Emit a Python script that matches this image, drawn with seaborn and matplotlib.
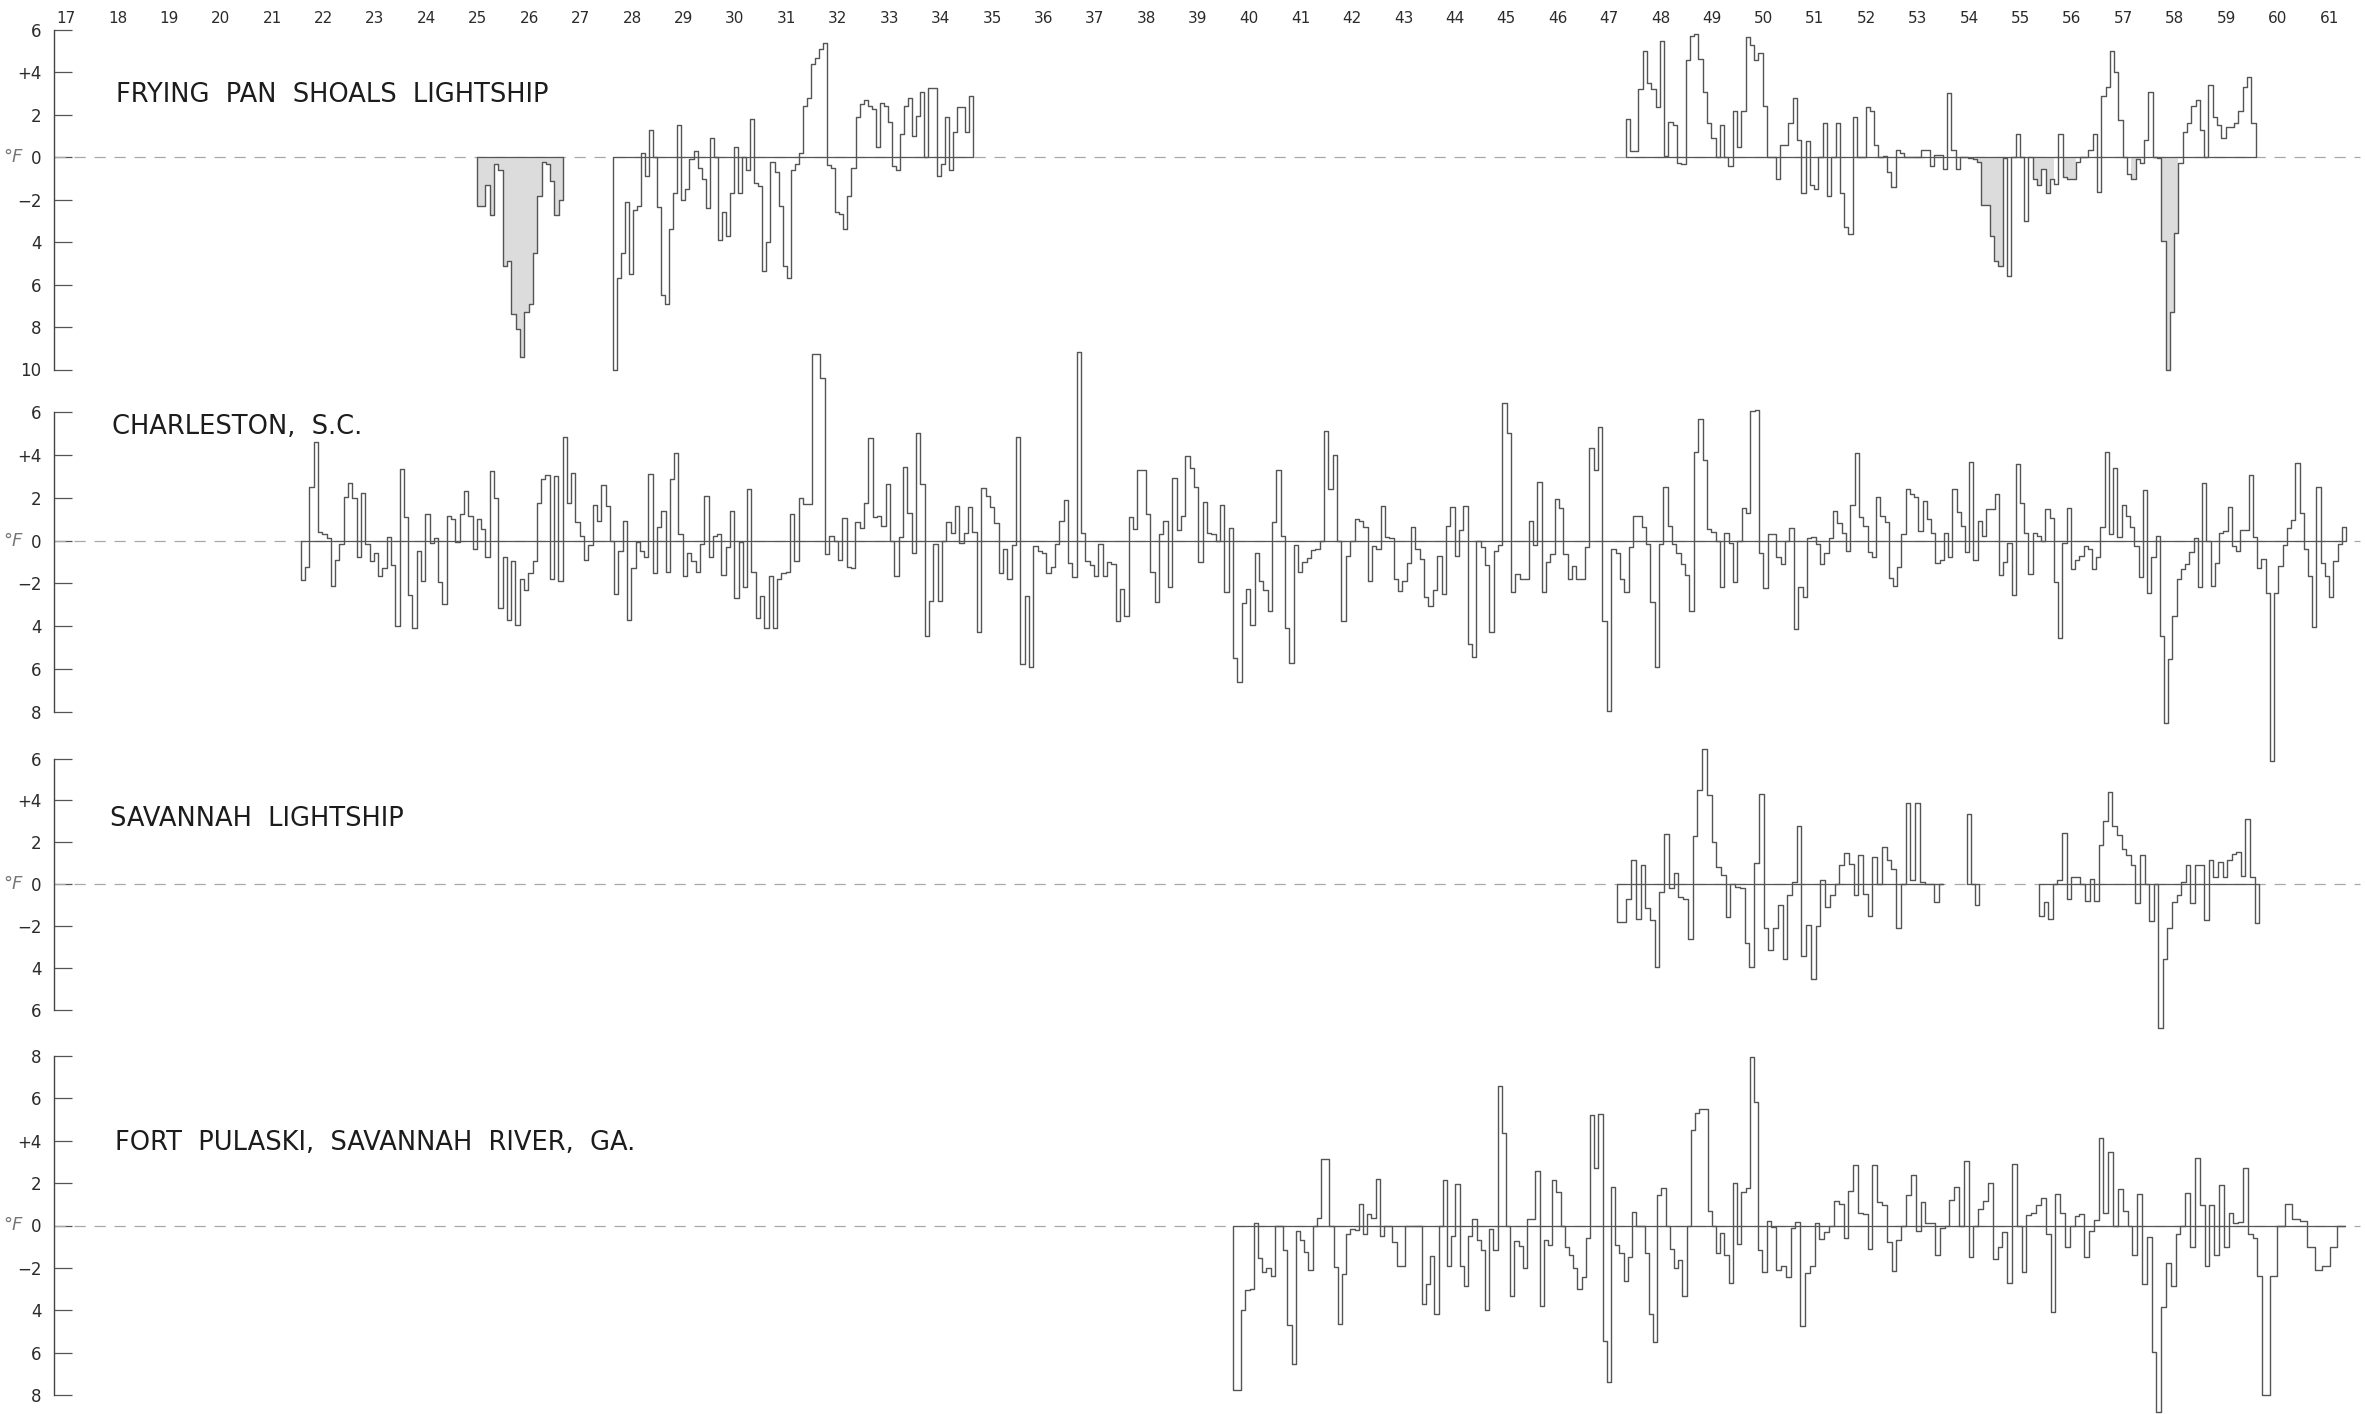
import numpy as np
import pandas as pd
import matplotlib
matplotlib.use("Agg")
import matplotlib.pyplot as plt
import seaborn as sns

sns.set_theme(style="white")
plt.rcParams['font.family'] = ['DejaVu Sans']

# ---------------------------------------------------------------------------
# Year labels along the top (19xx)
YEARS = list(range(17, 62))

# Monthly departures from normal surface temperature, degrees F.
# Frying Pan Shoals Lightship
fps_1925 = [-2.3, -2.3, -1.3, -2.7, -0.3, -0.6, -5.1, -4.9, -7.4, -8.1, -9.4, -7.3,
            -6.9, -4.5, -1.8, -0.2, -0.3, -1.1, -2.7, -2.0]
fps_1927 = [-10.0, -5.7, -4.5, -2.1, -5.5, -2.5, -2.3, 0.2, -0.9, 1.3, 0.0, -2.35,
            -6.5, -6.9, -3.4, -1.7, 1.5, -2.0, -1.5, -0.1, 0.3, -0.5, -1.0, -2.4,
            0.9, 0.0, -3.9, -2.6, -3.7, -1.7, 0.5, -1.7, 0.0, -0.6, 1.8, -1.2,
            -1.35, -5.35, -4.0, -0.2, -0.7, -2.3, -5.1, -5.7, -0.6, -0.3, 0.2, 2.4,
            2.8, 4.4, 4.7, 5.1, 5.4, -0.35, -0.5, -2.6, -2.65, -3.4, -1.8, -0.5,
            1.9, 2.5, 2.7, 2.4, 2.3, 0.5, 2.55, 2.4, 1.65, -0.4, -0.6, 1.1,
            2.4, 2.8, 1.0, 1.95, 3.1, 0.0, 3.25, 3.25, -0.9, -0.3, 1.9, -0.6,
            1.2, 2.35, 2.35, 1.2, 2.9]
fps_1947 = [1.8, 0.3, 0.3, 3.2, 5.0, 3.5, 3.2, 2.35, 5.5, 0.05, 1.65, 1.5,
            -0.25, -0.3, 4.6, 5.7, 5.8, 4.65, 3.1, 1.6, 0.9, 0.0, 1.5, 0.0,
            -0.4, 2.2, 0.5, 2.2, 5.65, 5.3, 4.6, 4.9, 2.4, 0.0, 0.0, -1.0,
            0.6, 0.6, 1.6, 2.8, 0.8, -1.7, 0.75, -1.3, -1.5, 0.0, 1.6, -1.8,
            0.0, 1.6, -1.7, -3.3, -3.6, 1.9, 0.0, 0.0, 2.35, 2.2, 0.6, 0.0,
            0.05, -0.7, -1.4, 0.35, 0.2, 0.0, 0.0, 0.0, 0.0, 0.35, 0.35, -0.4,
            0.1, 0.1, -0.55, 3.05, 0.35, -0.55, 0.0, 0.0, -0.05, -0.1, -0.2, -2.25,
            -2.25, -3.7, -4.9, -5.1, -0.05, -5.6, 0.0, 1.1, 0.0, -3.0, 0.0, -1.0,
            -1.3, -0.55, -1.7, -1.0, -1.25, 1.1, -0.95, -1.0, -1.0, -0.2, 0.0, 0.0,
            0.35, 1.1, -1.65, 2.9, 3.3, 5.0, 4.0, 1.75, 0.0, -0.8, -1.0, -0.1,
            -0.25, 0.8, 3.1, 0.0, -0.05, -3.95, -10.0, -7.3, -3.55, -0.25, 1.2, 1.6,
            2.4, 2.7, 1.3, 0.0, 3.4, 1.9, 1.5, 0.9, 1.45, 1.45, 1.6, 2.2,
            3.3, 3.8, 1.6]

# Charleston, S.C.
chs_1921 = [-1.85, -1.25, 2.5, 4.6, 0.4, 0.3, 0.1, -2.1, -0.9, -0.15, 2.05, 2.7,
            2.0, -0.75, 2.2, -0.15, -0.95, -0.6, -1.65, -1.3, 0.15, -1.15, -4.0, 3.35,
            1.1, -2.55, -4.1, -0.5, -1.9, 1.25, -0.1, 0.1, -1.95, -2.95, 1.15, 1.0,
            -0.05, 1.25, 2.3, 1.15, -0.4, 1.0, 0.55, -0.75, 3.25, 2.0, -3.15, -0.75,
            -3.7, -0.95, -3.95, -1.8, -2.3, -1.5, -0.95, 1.75, 2.85, 3.05, -1.8, 3.0,
            -1.9, 4.85, 1.75, 3.15, 0.85, 0.2, -0.9, -0.2, 1.65, 0.9, 2.6, 1.6,
            0.0, -2.5, -0.5, 0.9, -3.7, -1.3, -0.05, -0.5, -0.75, 3.1, -1.5, 0.65,
            1.4, -1.45, 2.85, 4.1, 0.3, -1.65, -0.6, -0.95, -1.45, -0.15, 2.1, -0.75,
            0.2, 0.3, -1.6, -0.3, 1.4, -2.7, -0.05, -2.15, 2.4, -1.45, -3.6, -2.6,
            -4.1, -1.65, -4.1, -1.8, -1.5, -1.45, 1.25, -0.95, 2.0, 1.7, 1.7]
chs_1931 = [8.7, 8.7, 7.6]
chs_1932 = [-0.65, 0.2, 0.0, -0.9, 1.05, -1.25, -1.3, 0.85, 0.6, 1.75, 4.8, 1.1,
            1.15, 0.7, 2.65, 0.0, -1.65, 0.15, 3.45, 1.3, -0.6, 5.0, 2.65, -4.45,
            -2.8, -0.15, -2.8, 0.0, 0.85, 0.35, 1.6, -0.1, 0.35, 1.55, 0.4, -4.25,
            2.45, 2.1, 1.55, 0.8, -1.5, -0.4, -1.8, -0.2, 4.85, -5.75, -2.6, -5.9,
            -0.25, -0.5, -0.6, -1.5, -1.25, -0.15, 0.9, 1.9, -1.05, -1.7, 8.8, 0.35,
            -0.95, -1.15, -1.65, -0.15, -1.65, -1.0, -1.1, -3.75, -2.25, -3.5, 1.1, 0.55,
            3.3, 3.3, 1.25, -1.45, -2.85, 0.3, 0.9, -2.15, 2.9, 0.5, 1.15, 3.95,
            3.4, 2.5, -1.0, 1.8, 0.35, 0.3, 0.0, 1.65, -2.4, 0.6, -5.5, -6.6,
            -2.9, -2.25, -3.95, -0.6, -1.9, -2.3, -3.3, 0.85, 3.3, 0.2, -4.1, -5.7,
            -0.2, -1.45, -1.0, -0.8, -0.45, -0.4, 0.0, 5.1, 2.4, 4.0]
chs_1941 = [0.0, -3.75, -0.7, 0.0, 1.0, 0.9, 0.65, -1.9, -0.25, -0.4, 1.6, 0.15,
            0.1, -1.8, -2.35, -1.9, -1.05, 0.65, -0.4, -0.85, -2.65, -3.05, -2.3, -0.7,
            -2.5, 0.7, 1.55, -0.7, 0.5, 1.6, -4.85, -5.45, 0.0, -0.3, -1.15, -4.25,
            -0.5, -0.2, 6.4, 5.0, -2.4, -1.55, -1.8, -1.8, 0.9, -0.2, 2.75, -2.4,
            -1.0, -0.65, 1.95, 1.5, -0.65, -1.8, -1.2, -1.8, -1.8, -0.3, 4.3, 3.3,
            5.3, -3.75, -7.95, -0.4, -0.6, -1.8, -2.4, -0.3, 1.15, 1.15, 0.65, -0.15,
            -2.85, -5.9, -0.15, 2.5, 0.7, -0.15, -0.6, -1.1, -1.6, -3.3, 4.15, 5.65,
            3.75, 0.55, 0.4, 0.0, -2.15, 0.35, -0.1, -1.95, 0.0, 1.5, 1.3, 6.05,
            6.1, -0.6, -2.2, 0.3, 0.3, -0.75, -1.1, 0.0, 0.6, -4.15, -2.15, -2.65,
            0.1, 0.15, -0.15, -1.1, -0.6, 0.1, 1.4, 0.8, 0.35, -0.5, 1.65, 4.1]
chs_1951 = [1.1, 0.7, -0.55, -0.75, 2.05, 1.15, 0.85, -1.75, -2.1, -1.25, 0.3, 2.4,
            2.15, 2.05, 0.45, 1.85, 1.0, 0.35, -1.05, -0.9, 0.35, -0.75, 2.4, 1.35,
            0.7, -0.55, 3.65, -0.9, 0.9, 0.2, 1.45, 1.45, 2.15, -1.6, -1.0, -0.1,
            -2.55, 3.55, 1.75, 0.35, -1.55, 0.35, 0.2, 0.0, 1.45, 1.05, -1.95, -4.55,
            -0.1, 1.5, -1.35, -0.9, -0.7, -0.25, -0.4, -1.35, -0.75, 0.65, 4.15, 0.3,
            3.4, 0.15, 1.65, 1.15, 0.65, -0.25, -1.7, 2.35, -2.45, -0.75, 0.2, -4.45,
            -8.5, -5.55, -3.5, -1.8, -1.35, -1.1, -0.55, 0.1, -2.15, 2.7, 0.0, -2.1,
            -1.05, 0.35, 0.45, 1.55, -0.25, -0.5, 0.5, 0.5, 3.05, 0.15, -1.3, -0.85,
            -2.45, -10.3, -2.45, -1.2, -0.2, 0.6, 0.95, 3.6, 1.3, -0.4, -1.65, -4.05,
            2.5, -1.05, -1.65, -2.65, -0.95, -0.15, 0.65]

# Savannah Lightship
sav_1947 = [-1.8, -1.8, -0.7, 1.15, -1.65, 0.9, -1.15, -1.7, -3.95, -0.35, 2.4, -0.2,
            0.55, -0.6, -0.7, -2.6, 2.3, 4.5, 6.45, 4.25, 2.0, 0.8, 0.45, -1.55,
            0.0, -0.15, -0.2, -2.8, -3.95, 1.0, 4.3, -2.1, -3.15, -2.1, -1.0, -3.55,
            -0.5, 0.1, 2.8, -3.4, -1.95, -4.5, -2.0, 0.2, -1.1, -0.5, 0.0, 0.9,
            1.5, 0.95, -0.5, 1.4, -0.45, -1.5, 1.3, 0.0, 1.8, 1.15, 0.75, -2.1,
            0.0, 3.9, 0.2, 3.9, 0.1, 0.0, 0.0, -0.85, 0.0]
sav_1953 = [3.35, 0.0, -1.0]
sav_1955 = [-1.5, -0.85, -1.65, 0.0, 0.2, 2.45, -0.7, 0.35, 0.35, 0.0, -0.8, 0.25,
            -0.8, 1.85, 3.0, 4.4, 2.8, 2.35, 1.7, 1.4, 0.9, -0.9, 1.4, 0.0,
            -1.75, 0.0, -6.85, -3.55, -2.1, -0.85, -0.5, 0.1, 0.9, -0.9, 0.9, 0.9,
            -1.7, 1.15, 0.35, 1.05, 0.35, 1.15, 1.45, 1.55, 0.4, 3.1, 0.35, -1.85]

# Fort Pulaski, Savannah River, Ga.
ftp_1939 = [-7.75, -7.75, -4.0, -3.05, -3.0, 0.1, -1.55, -2.2, -2.0, -2.4, 0.0, 0.0,
            -1.15, -4.7, -6.55, -0.25, -0.7, -1.25, -2.1, 0.0, 0.35, 3.15, 3.15, 0.0,
            -1.95, -4.65, -2.3, -0.4, -0.15, -0.2, 1.0, -0.4, 0.55, 0.35, 2.2, -0.5,
            0.0, 0.0, -0.8, -1.9, -1.9, 0.0, 0.0, 0.0, 0.0, -3.7, -2.75, -1.45,
            -4.2, 0.0, 2.15, -1.9, -0.5, 1.95, -1.9, -2.85, -0.5, 0.3, -0.7, -1.15,
            -4.0, -0.15, -1.15, 6.6, 4.35, 0.0, -3.35, -0.75, -0.95, -2.0, 0.3, 0.3,
            2.55, -3.8, -0.7, -0.9, 2.15, 1.6, 0.0, -1.0, -1.4, -2.0, -3.0, -2.45,
            -0.6, 5.2, 2.7, 5.25, -5.45, -7.4, 1.8, -0.9, -1.3, -2.6, -1.5, 0.65,
            0.0, 0.0, -1.3, -4.2, -5.5, 1.45, 1.75, 0.0, -1.1, -2.0, -1.65, -3.35,
            0.0, 4.5, 5.3, 5.5, 5.5, 0.7, 0.0, -1.3, -0.35, -1.4, -2.7, 2.0,
            -0.85, 1.6, 1.75, 7.95, 5.85, -1.15, -2.2]
ftp_1950 = [0.2, -0.05, -2.1, -1.9, -2.45, -0.1, 0.15, -4.75, -2.25, -1.9, 0.1, -0.65,
            -0.3, 0.0, 1.15, 1.0, -0.6, 1.65, 2.85, 0.6, 0.55, -1.1, 2.85, 1.1,
            0.95, -0.8, -2.15, -0.7, 0.0, 1.45, 2.4, -0.25, 1.1, 0.1, 0.1, -1.4,
            -0.1, 0.0, 1.2, 1.8, 0.0, 3.05, -1.5, 0.0, 0.8, 1.15, 2.0, -1.6,
            -1.0, -0.3, -2.7, 2.9, 0.0, -2.2, 0.5, 0.6, 0.95, 1.3, -0.4, -4.1,
            1.5, 0.6, -1.0, 0.0, 0.45, 0.55, -1.5, -0.25, 0.25, 4.15, 0.6, 3.45,
            0.0, 1.7, 0.7, 0.0, -1.4, 1.5, -2.75, -0.55, -5.95, -8.8, -3.85, -1.75,
            -2.85, -0.4, 0.0, 1.55, -1.0, 3.2, 0.95, -1.9, 0.95, -1.4, 1.9, -1.0,
            0.6, 0.1, 0.15, 2.7, -0.4, -0.6, -2.4]
ftp_1959 = [-8.0, -2.4, 0.0, 1.0, 0.3, 0.2, -1.0, -2.1, -1.9, -1.0, 0.0]

# Record periods (decimal year, 19xx) for each block of monthly values
fps_runs = [[(24.98, 26.66, fps_1925)],
            [(27.62, 34.63, fps_1927)],
            [(47.32, 59.57, fps_1947)]]
chs_runs = [[(21.56, 31.49, chs_1921), (31.49, 31.75, chs_1931),
             (31.75, 41.71, chs_1932), (41.71, 51.86, chs_1941),
             (51.86, 61.33, chs_1951)]]
sav_runs = [[(47.15, 53.50, sav_1947)],
            [(53.95, 54.20, sav_1953)],
            [(55.36, 59.64, sav_1955)]]
ftp_runs = [[(39.68, 50.06, ftp_1939), (50.06, 59.70, ftp_1950),
             (59.70, 61.30, ftp_1959)]]

# Periods with shaded cold departures on the lightship record
fps_shaded = [(24.9, 26.8), (54.0, 56.2), (57.1, 57.45), (57.55, 58.15)]

LINE = "#555555"


def run_frame(chunks):
    """Outline of monthly steps that starts and ends on the zero line."""
    edges, vals = [], []
    for a, b, v in chunks:
        e = np.linspace(a, b, len(v) + 1)
        edges.extend(e[:-1])
        vals.extend(v)
    edges.append(chunks[-1][1])
    edges = np.asarray(edges)
    vals = np.asarray(vals, float)
    x = np.concatenate([[edges[0]], edges[:-1], [edges[-1], edges[-1]]])
    y = np.concatenate([[0.0], vals, [vals[-1], 0.0]])
    return pd.DataFrame({"x": x, "y": y})


W, H = 2365, 1414
fig = plt.figure(figsize=(W / 100, H / 100), dpi=100)
fig.patch.set_facecolor("white")

LEFT, RIGHT = 54, 2360
panels = [
    # name, runs, (top px, bottom px), ylim, ticks, labels, title pos (x px, y px)
    ("FRYING  PAN  SHOALS  LIGHTSHIP", fps_runs, (30, 369.5), (-10, 6),
     [6, 4, 2, 0, -2, -4, -6, -8, -10],
     ["6", "+4", "2", "0", "\u22122", "4", "6", "8", "10"], (116, 95)),
    ("CHARLESTON,  S.C.", chs_runs, (412, 712), (-8, 6),
     [6, 4, 2, 0, -2, -4, -6, -8],
     ["6", "+4", "2", "0", "\u22122", "4", "6", "8"], (112, 427)),
    ("SAVANNAH  LIGHTSHIP", sav_runs, (758.5, 1010), (-6, 6),
     [6, 4, 2, 0, -2, -4, -6],
     ["6", "+4", "2", "0", "\u22122", "4", "6"], (110, 819)),
    ("FORT  PULASKI,  SAVANNAH  RIVER,  GA.", ftp_runs, (1056, 1395), (-8, 8),
     [8, 6, 4, 2, 0, -2, -4, -6, -8],
     ["8", "6", "+4", "2", "0", "\u22122", "4", "6", "8"], (115, 1143)),
]

axes = []
for i, (name, runs, (top, bot), ylim, ticks, labels, tpos) in enumerate(panels):
    ax = fig.add_axes([LEFT / W, 1 - bot / H, (RIGHT - LEFT) / W, (bot - top) / H])
    ax.set_facecolor("none")
    ax.set_xlim(16.76, 61.6)
    ax.set_ylim(*ylim)

    # dashed reference line at zero across the whole record
    ax.axhline(0, color="#a8a8a8", lw=0.9, ls=(0, (9, 7)), zorder=1)

    for chunks in runs:
        df = run_frame(chunks)
        ax.hlines(0, df.x.iloc[0], df.x.iloc[-1], color=LINE, lw=0.9, zorder=2)
        if i == 0:
            for a, b in fps_shaded:
                mask = (df.x >= a) & (df.x <= b) & (df.y < 0)
                if mask.any():
                    ax.fill_between(df.x, df.y, 0, where=mask, step="post",
                                    color="#dcdcdc", lw=0, zorder=1.5)
        sns.lineplot(data=df, x="x", y="y", ax=ax, estimator=None, sort=False,
                     drawstyle="steps-post", color=LINE, lw=1.0, zorder=3)

    # extreme months run past the panel edge, as on the printed chart
    for ln in ax.lines:
        ln.set_clip_on(False)

    ax.set_xlabel("")
    ax.set_ylabel("")
    ax.set_yticks(ticks)
    ax.set_yticklabels(labels)
    ax.tick_params(axis="y", direction="in", length=13, width=0.9, color="#555555",
                   labelsize=12, labelcolor="#2b2b2b", pad=9, left=True)
    for s in ("top", "right", "bottom"):
        ax.spines[s].set_visible(False)
    ax.spines["left"].set_color("#444444")
    ax.spines["left"].set_linewidth(1.0)
    ax.grid(False)

    ax.annotate("°F", xy=(0, 0), xycoords=("axes fraction", "data"),
                xytext=(-41, 0), textcoords="offset pixels", ha="center",
                va="center", fontsize=13, color="#777777", fontstyle="italic")

    fig.text(tpos[0] / W, 1 - tpos[1] / H, name, fontsize=18.5, color="#1c1c1c",
             ha="left", va="center")

    if i == 0:
        ax.set_xticks(YEARS)
        ax.set_xticklabels([str(y) for y in YEARS])
        ax.tick_params(axis="x", top=True, labeltop=True, bottom=False,
                       labelbottom=False, length=0, pad=3, labelsize=11,
                       labelcolor="#2b2b2b")
    else:
        ax.set_xticks([])
    axes.append(ax)

fig.savefig("out.png", dpi=100, facecolor="white")
